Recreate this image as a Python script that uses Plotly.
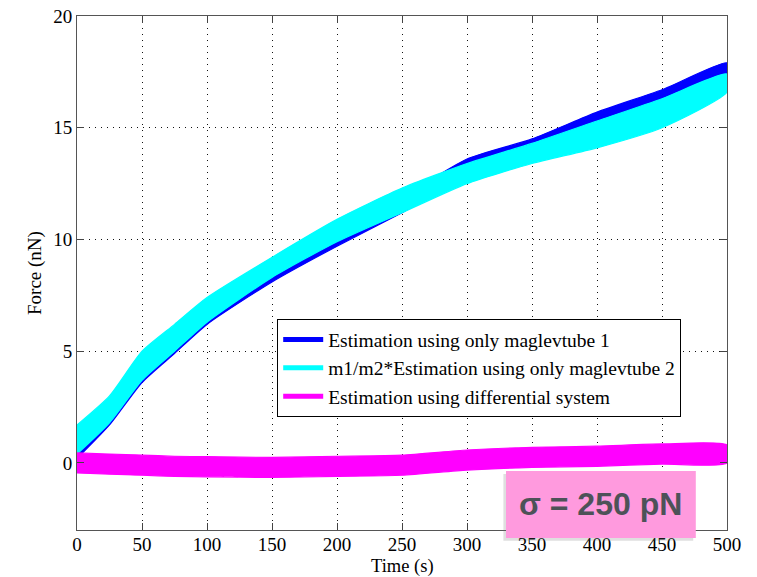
import plotly.graph_objects as go

# ---- data (noise bands: lower / upper envelope) ----
time_s = [0, 25, 50, 75, 100, 150, 200, 250, 300, 350, 400, 450, 500]

tube1_low = [0.2, 1.7, 3.6, 4.9, 6.2, 8.1, 9.7, 11.2, 12.8, 13.9, 15.0, 16.1, 17.3]
tube1_high = [1.2, 2.6, 4.4, 5.6, 6.9, 8.8, 10.4, 11.9, 13.6, 14.5, 15.7, 16.7, 17.9]

tube2_low = [0.4, 1.8, 3.7, 5.0, 6.3, 8.3, 9.9, 11.2, 12.5, 13.4, 14.1, 15.0, 16.6]
tube2_high = [1.7, 3.0, 5.0, 6.2, 7.4, 9.2, 10.9, 12.3, 13.4, 14.3, 15.3, 16.3, 17.4]

diff_low = [-0.45, -0.5, -0.55, -0.6, -0.62, -0.65, -0.6, -0.55, -0.32, -0.2, -0.15, -0.05, 0.0]
diff_high = [0.45, 0.4, 0.35, 0.3, 0.28, 0.25, 0.3, 0.35, 0.58, 0.7, 0.75, 0.85, 0.8]

series_names = [
    "Estimation using only maglevtube 1",
    "m1/m2*Estimation using only maglevtube 2",
    "Estimation using differential system",
]
series_colors = ["#0000ff", "#00ffff", "#ff00ff"]

x_ticks = [0, 50, 100, 150, 200, 250, 300, 350, 400, 450, 500]
y_ticks = [0, 5, 10, 15, 20]

FONT = "Liberation Serif"

fig = go.Figure()

bands = [(tube1_low, tube1_high), (tube2_low, tube2_high), (diff_low, diff_high)]
for (lo, hi), col in zip(bands, series_colors):
    fig.add_trace(go.Scatter(
        x=time_s + time_s[::-1],
        y=hi + lo[::-1],
        fill="toself",
        fillcolor=col,
        mode="lines",
        line=dict(color=col, width=1.2, shape="spline", smoothing=0.6),
        hoverinfo="skip",
        showlegend=False,
    ))

# legend entries
for name, col in zip(series_names, series_colors):
    fig.add_trace(go.Scatter(
        x=[None], y=[None], mode="lines", name=name,
        line=dict(color=col, width=5),
    ))

axis_common = dict(
    showline=True, linecolor="#555555", linewidth=1, mirror="ticks",
    ticks="inside", ticklen=7, tickcolor="#444444", tickwidth=1,
    showgrid=True, gridcolor="#111111", gridwidth=1, griddash="1px,5px",
    zeroline=False, automargin=False,
    tickfont=dict(family=FONT, size=19, color="black"),
)

fig.update_xaxes(range=[0, 500], tickvals=x_ticks, ticklabelstandoff=-3, **axis_common)
fig.update_yaxes(range=[-3, 20], tickvals=y_ticks, **axis_common)

# axis titles
fig.add_annotation(xref="paper", yref="paper", x=0.5, y=-0.071,
                   xanchor="center", yanchor="middle", showarrow=False,
                   text="Time (s)", font=dict(family=FONT, size=18.5, color="black"))
fig.add_annotation(xref="paper", yref="paper", x=-0.0646, y=0.5,
                   xanchor="center", yanchor="middle", showarrow=False, textangle=-90,
                   text="Force (nN)", font=dict(family=FONT, size=19, color="black"))

# pink annotation box with a soft shadow
fig.add_shape(type="rect", xref="paper", yref="paper",
              x0=0.656, x1=0.948, y0=-0.021, y1=0.109,
              fillcolor="rgba(110,110,110,0.22)", line=dict(width=0), layer="above")
fig.add_shape(type="rect", xref="paper", yref="paper",
              x0=0.660, x1=0.952, y0=-0.0156, y1=0.1148,
              fillcolor="#ff9ade", line=dict(width=0), layer="above")
fig.add_annotation(xref="paper", yref="paper", x=0.806, y=0.050,
                   xanchor="center", yanchor="middle",
                   text="<b>σ = 250 pN</b>", showarrow=False,
                   font=dict(family="Liberation Sans", size=32, color="#4d5258"))

fig.update_layout(
    width=757, height=577,
    margin=dict(l=77, r=30, t=16, b=47),
    paper_bgcolor="white", plot_bgcolor="white",
    showlegend=True,
    legend=dict(
        x=0.308, y=0.41, xanchor="left", yanchor="top",
        bordercolor="black", borderwidth=1, bgcolor="white",
        font=dict(family=FONT, size=19.5, color="black"),
        tracegroupgap=0, itemwidth=40,
    ),
)

fig.write_html("out.html", config={"displayModeBar": False},
               post_script="document.body.style.margin='0px';")
